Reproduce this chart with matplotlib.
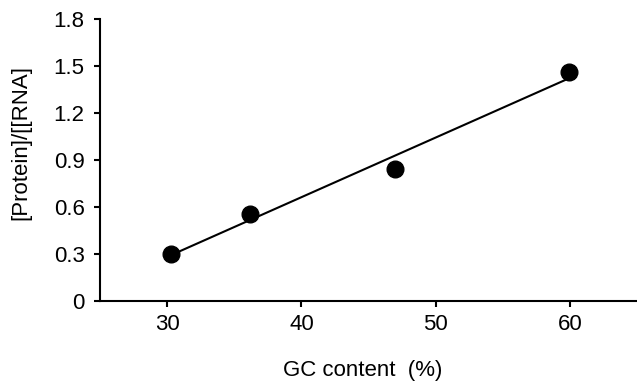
import numpy as np
import matplotlib
matplotlib.use("Agg")
import matplotlib.pyplot as plt

plt.rcParams['font.family'] = ['Liberation Sans', 'DejaVu Sans']

gc_content = [30.3, 36.2, 47.0, 59.9]
protein_rna = [0.30, 0.555, 0.845, 1.46]
x_ticks = [30, 40, 50, 60]
y_ticks = [0, 0.3, 0.6, 0.9, 1.2, 1.5, 1.8]
y_tick_labels = ['0', '0.3', '0.6', '0.9', '1.2', '1.5', '1.8']

fig = plt.figure(figsize=(6.37, 3.85), dpi=100)
ax = fig.add_axes([100/637, 84/385, 537/637, 282/385])

# linear trendline
slope, icpt = np.polyfit(gc_content, protein_rna, 1)
xs = np.array([min(gc_content), max(gc_content)])
ax.plot(xs, slope*xs + icpt, color='black', lw=1.5, zorder=2)
ax.plot(gc_content, protein_rna, 'o', color='black', markersize=12, zorder=3)

ax.set_xlim(25, 65)
ax.set_ylim(0, 1.8)
ax.set_xticks(x_ticks)
ax.set_yticks(y_ticks)
ax.set_yticklabels(y_tick_labels)
ax.tick_params(width=1.5, direction='out')
ax.tick_params(axis='y', length=4, pad=7, labelsize=16)
ax.tick_params(axis='x', length=4.5, pad=5, labelsize=16)
for s in ['top', 'right']:
    ax.spines[s].set_visible(False)
for s in ['left', 'bottom']:
    ax.spines[s].set_linewidth(1.5)

ax.set_xlabel('GC content  (%)', fontsize=16, va='center')
ax.set_ylabel('[Protein]/[[RNA]', fontsize=16, va='center')
ax.xaxis.set_label_coords(0.49, -0.248)
ax.yaxis.set_label_coords(-0.147, 0.562)

fig.savefig('out.png', dpi=100)
